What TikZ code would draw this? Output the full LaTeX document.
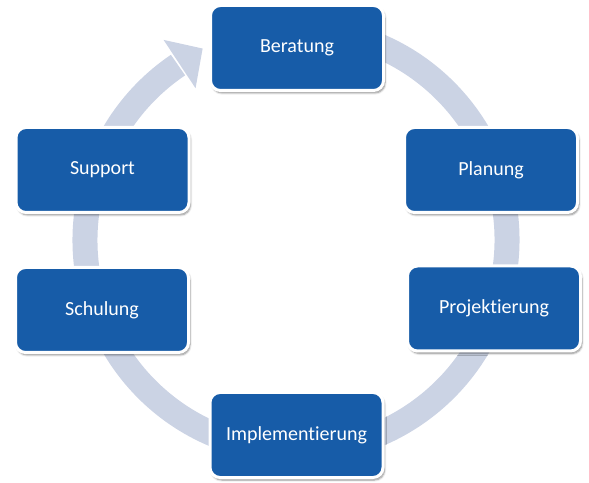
\documentclass[tikz,border=0pt]{standalone}
\usepackage{fontspec}
\setmainfont{Carlito}[Ligatures=NoCommon]
\usetikzlibrary{shadows.blur,calc}
\definecolor{boxblue}{HTML}{175CA8}
\definecolor{ringcol}{HTML}{CBD3E4}
\tikzset{
  stagebox/.style={rectangle, rounded corners=10pt, fill=boxblue, draw=white,
    line width=3pt, minimum width=173pt, minimum height=85pt, inner sep=0pt,
    text=white, font=\fontsize{20}{24}\selectfont,
    blur shadow={shadow xshift=1.5pt, shadow yshift=-2.5pt, shadow blur steps=6, shadow opacity=45}},
  ring/.style={draw=ringcol, line width=25pt, line cap=butt}
}
\begin{document}
\begin{tikzpicture}[x=1pt,y=1pt]
\useasboundingbox (0,0) rectangle (589,482);
\coordinate (c) at (296,242);
% ring with arrow
\draw[ring] (c) ++(80:211) arc[start angle=80, end angle=-236, radius=211];
\fill[ringcol] ($(c)+(116:213)$) -- ($(c)+(123.5:240)$) -- ($(c)+(123.5:182)$) -- cycle;
% boxes
\node[stagebox] (ber) at (297,434) {Beratung};
\node[stagebox] (pla) at (491,312) {Planung};
\node[stagebox] (pro) at (494,173.5) {Projektierung};
\node[stagebox] (imp) at (296.5,47) {Implementierung};
\node[stagebox] (sch) at (102,172) {Schulung};
\node[stagebox] (sup) at (102.5,312) {Support};
\end{tikzpicture}
\end{document}
